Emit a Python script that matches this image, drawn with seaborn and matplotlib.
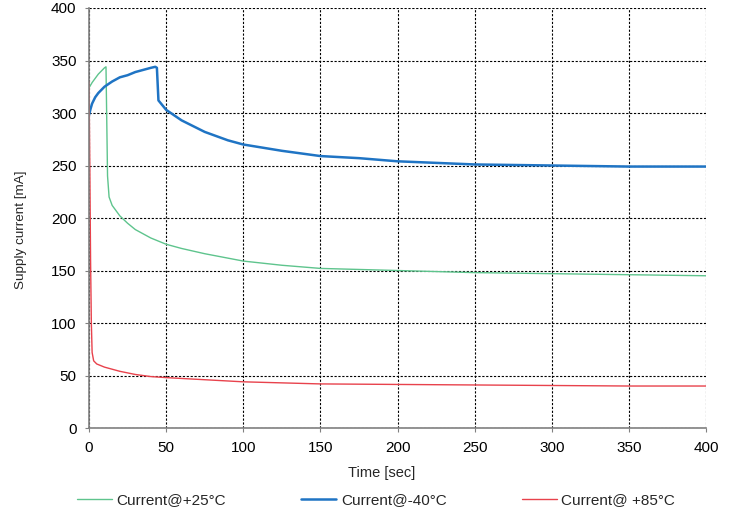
import pandas as pd
import matplotlib
matplotlib.use('Agg')
import matplotlib.pyplot as plt
import seaborn as sns

# values
t_25 = [0, 2, 4, 6, 8, 10, 11, 12, 13, 15, 20, 25, 30, 40, 50, 60, 75, 100, 125, 150, 175, 200, 250, 300, 350, 400]
i_25 = [324, 329, 333, 337, 340, 343, 344, 240, 220, 212, 202, 195, 189, 181, 175, 171, 166, 159, 155, 152, 151, 150, 148, 147, 146, 145]

t_40 = [0, 1, 2, 4, 6, 8, 10, 15, 20, 25, 30, 35, 40, 43, 44, 45, 50, 60, 75, 90, 100, 125, 150, 175, 200, 250, 300, 350, 400]
i_40 = [298, 304, 309, 315, 319, 322, 325, 330, 334, 336, 339, 341, 343, 344, 343, 312, 303, 293, 282, 274, 270, 264, 259, 257, 254, 251, 250, 249, 249]

t_85 = [0, 0.5, 1, 1.5, 2, 3, 5, 10, 20, 30, 40, 50, 75, 100, 150, 200, 250, 300, 350, 400]
i_85 = [330, 250, 160, 100, 72, 64, 61, 58, 54, 51, 49, 48, 46, 44, 42, 41.5, 41, 40.5, 40, 40]

labels = ['Current@+25°C', 'Current@-40°C', 'Current@ +85°C']
colors = ['#5ec48d', '#1f74c4', '#e8424c']
widths = [1.0, 1.8, 1.0]

sns.set_style('white')
plt.rcParams['font.family'] = ['Liberation Sans', 'DejaVu Sans']

fig = plt.figure(figsize=(7.37, 5.16), dpi=100)
ax = fig.add_axes([0.1208, 0.1705, 0.8372, 0.814])

for t, i, lab, c, w in zip([t_25, t_40, t_85], [i_25, i_40, i_85], labels, colors, widths):
    sns.lineplot(x=t, y=i, color=c, linewidth=w, label=lab, ax=ax)

ax.set_xlim(0, 400)
ax.set_ylim(0, 400)
ax.set_xticks(range(0, 401, 50))
ax.set_yticks(range(0, 401, 50))
ax.grid(True, linestyle=(0, (2, 1.5)), color='black', linewidth=0.8)
for s in ['top', 'right']:
    ax.spines[s].set_visible(False)
for s in ['left', 'bottom']:
    ax.spines[s].set_color('#808080')
    ax.spines[s].set_linewidth(1.2)
ax.tick_params(axis='both', labelsize=11, length=3, pad=6, color='#808080', direction='out',
               bottom=True, left=True, labelcolor='black')
ax.set_xlabel('Time [sec]', fontsize=10.5)
ax.set_ylabel('Supply current [mA]', fontsize=9.7)
ax.xaxis.set_label_coords(0.475, -0.0905)
ax.yaxis.set_label_coords(-0.1, 0.471)

ax.get_legend().remove()
handles, labs = ax.get_legend_handles_labels()
fig.legend(handles, labs, loc='center left', ncol=3, frameon=False, fontsize=11,
           bbox_to_anchor=(77 / 737, 0.031), borderpad=0, borderaxespad=0,
           columnspacing=4.9, handlelength=2.3, handletextpad=0.3)

fig.savefig('out.png', dpi=100)
